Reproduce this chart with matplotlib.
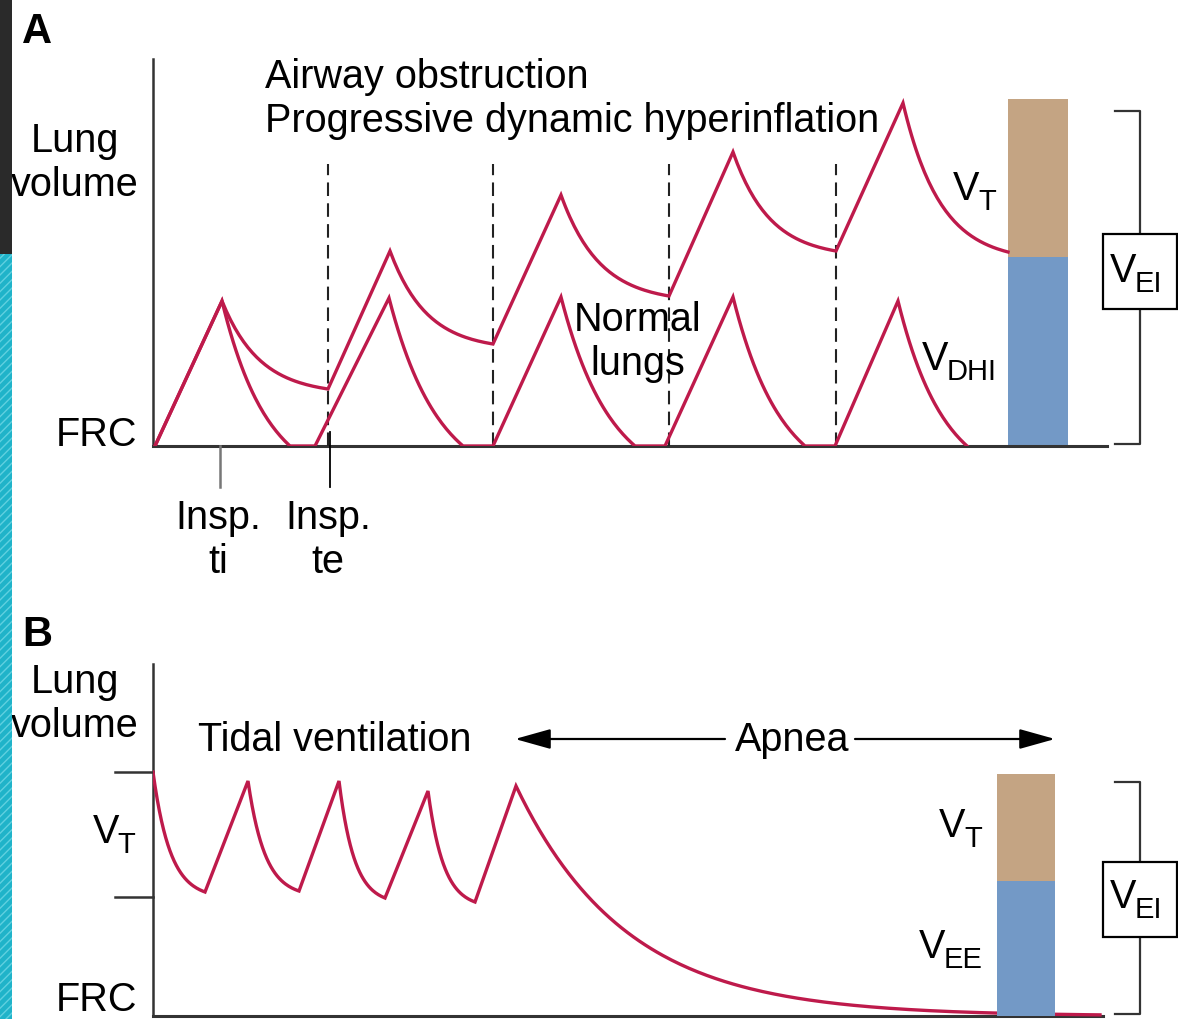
import numpy as np
import matplotlib
matplotlib.use("Agg")
import matplotlib.pyplot as plt
from matplotlib.patches import Rectangle

plt.rcParams["font.family"] = ["Liberation Sans", "DejaVu Sans"]

# panel A: time (arbitrary units) vs lung volume above FRC
norm_t = [2, 69, 137, 162, 236, 310, 340, 408, 482, 512, 580, 652, 682, 745, 814]
norm_v = [0, 145, 0, 0, 148, 0, 0, 149, 0, 0, 149, 0, 0, 145, 0]
obst_t = [2, 69, 175, 237, 340, 408, 516, 580, 683, 750, 855]
obst_v = [0, 145, 57, 195, 102, 251, 150, 294, 195, 343, 194]
breath_marks = [175, 340, 516, 683]
bar_a = [189, 158]        # V_DHI, V_T
# panel B: tidal breaths then apnea
tidal_t = [0, 52, 95, 146, 186, 232, 275, 322, 363]
tidal_v = [244, 124, 235, 125, 235, 118, 225, 114, 230]
apnea_end = 947
apnea_tau = 110
bar_b = [135, 107]        # V_EE, V_T

RED = "#be1a4b"
AX = "#333333"
TAN = "#c4a483"
BLUE = "#7399c6"
FS = 28.5
SUB = 21


def trace(ts, vs, k):
    xs, ys = [ts[0]], [vs[0]]
    for t0, v0, t1, v1 in zip(ts[:-1], vs[:-1], ts[1:], vs[1:]):
        s = np.linspace(0, 1, 50)[1:]
        f = (1 - np.exp(-k * s)) / (1 - np.exp(-k)) if v1 < v0 else s
        xs.extend(t0 + s * (t1 - t0))
        ys.extend(v0 + f * (v1 - v0))
    return np.array(xs), np.array(ys)


def vlabel(ax, x, y, sub, ha="left", zorder=4):
    # "V" with a lowered subscript, as in the original artwork
    v = ax.text(x, y, "V", fontsize=FS, ha=ha, va="baseline", zorder=zorder)
    ax.annotate(sub, xy=(1, 0), xycoords=v, xytext=(-1, -1.5),
                textcoords="offset points", fontsize=SUB, ha="left",
                va="baseline", zorder=zorder)


def bracket(ax, top, yc, vbase):
    ax.plot([962, 987, 987, 962], [top, top, 2, 2], color=AX, lw=1.6, clip_on=False)
    ax.add_patch(Rectangle((950, yc - 37.5), 74, 75, facecolor="white",
                           edgecolor="black", lw=1.6, zorder=3, clip_on=False))
    vlabel(ax, 957, vbase, "EI")


fig = plt.figure(figsize=(11.78, 10.20), dpi=100)

# left-edge decoration
fig.add_artist(Rectangle((0, 0.75), 12 / 1178, 0.25, transform=fig.transFigure,
                         facecolor="#2a2a2a", edgecolor="none"))
fig.add_artist(Rectangle((0, 0), 12 / 1178, 0.75, transform=fig.transFigure,
                         facecolor="#1fb3c9", edgecolor="#5fd0e0", hatch="////", lw=0))

# ---------------- panel A ----------------
axa = fig.add_axes([153 / 1178, 573 / 1020, 1025 / 1178, 447 / 1020])
axa.set_xlim(0, 1025)
axa.set_ylim(0, 447)
axa.axis("off")

axa.plot([0, 0], [0, 387], color=AX, lw=1.8, clip_on=False)
axa.plot([0, 954], [0, 0], color=AX, lw=2.2, clip_on=False)
for t in breath_marks:
    axa.plot([t, t], [0, 282], color="#222222", lw=1.5, ls=(0, (6.5, 3.5)))
axa.plot([67, 67], [0, -41], color="#777777", lw=1.8, clip_on=False)
axa.plot([177, 177], [14, -41], color="black", lw=1.3, clip_on=False)

x, y = trace(norm_t, norm_v, 1.5)
axa.plot(x, y, color=RED, lw=2.4, solid_joinstyle="miter")
x, y = trace(obst_t, obst_v, 2.8)
axa.plot(x, y, color=RED, lw=2.4, solid_joinstyle="miter")

axa.bar(885, bar_a[0], width=60, color=BLUE)
axa.bar(885, bar_a[1], width=60, bottom=bar_a[0], color=TAN)
bracket(axa, 335, 174.5, 165)

axa.text(-131, 415, "A", fontsize=30, fontweight="bold", ha="left", va="center")
axa.text(-78, 284, "Lung\nvolume", fontsize=FS, ha="center", va="center")
axa.text(-16, 12, "FRC", fontsize=FS, ha="right", va="center")
axa.text(112, 348, "Airway obstruction\nProgressive dynamic hyperinflation",
         fontsize=FS, ha="left", va="center")
vlabel(axa, 800, 247, "T")
vlabel(axa, 769, 77, "DHI")
axa.text(485, 105, "Normal\nlungs", fontsize=FS, ha="center", va="center")
axa.text(65, -93, "Insp.\nti", fontsize=FS, ha="center", va="center")
axa.text(175, -93, "Insp.\nte", fontsize=FS, ha="center", va="center")

# ---------------- panel B ----------------
axb = fig.add_axes([153 / 1178, 0, 1025 / 1178, 420 / 1020])
axb.set_xlim(0, 1025)
axb.set_ylim(-3, 417)
axb.axis("off")

axb.plot([0, 0], [0, 352], color=AX, lw=1.8, clip_on=False)
axb.plot([0, 950], [0, 0], color=AX, lw=2.2, clip_on=False)
axb.plot([-38, 0], [tidal_v[0], tidal_v[0]], color=AX, lw=1.8, clip_on=False)
axb.plot([-38, 0], [119, 119], color=AX, lw=1.8, clip_on=False)

x, y = trace(tidal_t, tidal_v, 3.0)
ta = np.linspace(tidal_t[-1], apnea_end, 200)
va = tidal_v[-1] * np.exp(-(ta - tidal_t[-1]) / apnea_tau)
axb.plot(np.r_[x, ta], np.r_[y, va], color=RED, lw=2.4, solid_joinstyle="miter")

axb.bar(873, bar_b[0], width=58, color=BLUE, zorder=3)
axb.bar(873, bar_b[1], width=58, bottom=bar_b[0], color=TAN, zorder=3)
bracket(axb, 234, 116.5, 109)

arrow = dict(arrowstyle="-|>,head_length=1.0,head_width=0.28", color="black", lw=1.6,
             shrinkA=0, shrinkB=0, mutation_scale=22)
axb.annotate("", xy=(362, 277), xytext=(572, 277), arrowprops=arrow)
axb.annotate("", xy=(902, 277), xytext=(702, 277), arrowprops=arrow)
axb.text(639, 277, "Apnea", fontsize=FS, ha="center", va="center")
axb.text(45, 277, "Tidal ventilation", fontsize=FS, ha="left", va="center")

axb.text(-131, 382, "B", fontsize=30, fontweight="bold", ha="left", va="center")
axb.text(-78, 313, "Lung\nvolume", fontsize=FS, ha="center", va="center")
vlabel(axb, -34, 174, "T", ha="right")
axb.text(-16, 17, "FRC", fontsize=FS, ha="right", va="center")
vlabel(axb, 786, 180, "T")
vlabel(axb, 766, 59, "EE")

fig.savefig("out.png", dpi=100)
